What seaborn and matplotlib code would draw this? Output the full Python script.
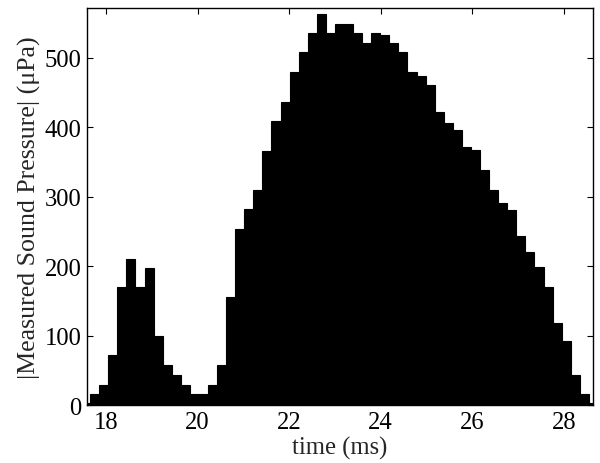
import numpy as np
import pandas as pd
import matplotlib
matplotlib.use("Agg")
import matplotlib.pyplot as plt
import seaborn as sns

# Bin centres (ms) of the pressure histogram: regular grid
bin_first = 17.552
bin_width = 0.1981
pressure_upa = [
    4, 17, 30, 72, 170, 211, 170, 198, 100, 58,
    44, 30, 17, 17, 30, 58, 156, 254, 282, 310,
    366, 409, 436, 479, 508, 535, 563, 535, 549, 549,
    535, 521, 535, 532, 521, 508, 479, 473, 460, 422,
    406, 396, 372, 367, 339, 310, 291, 281, 243, 221,
    199, 171, 119, 92, 44, 16, 3,
]
time_ms = np.round(bin_first + bin_width * np.arange(len(pressure_upa)), 4)
bin_edges = np.append(time_ms - bin_width / 2, time_ms[-1] + bin_width / 2).tolist()

x_ticks = [18, 20, 22, 24, 26, 28]
y_ticks = [0, 100, 200, 300, 400, 500]

df = pd.DataFrame({"time": time_ms, "pressure": pressure_upa})

sns.set_style("ticks")
plt.rcParams["font.family"] = ["Liberation Serif", "DejaVu Serif"]
plt.rcParams["font.size"] = 17.7

fig = plt.figure(figsize=(6, 4.64), dpi=100)
ax = fig.add_axes([0.1455, 0.124, 0.8423, 0.856])

sns.histplot(
    data=df,
    x="time",
    weights="pressure",
    bins=bin_edges,
    color="black",
    edgecolor="black",
    linewidth=0.8,
    alpha=1,
    ax=ax,
)

ax.set_xlim(17.59, 28.63)
ax.set_ylim(0, 571)
ax.set_xticks(x_ticks)
ax.set_yticks(y_ticks)
ax.tick_params(direction="in", length=4, width=0.8, top=True, right=True,
               labelsize=17.7, pad=4, colors="black")
for side in ["top", "right", "bottom", "left"]:
    ax.spines[side].set_visible(True)
    ax.spines[side].set_linewidth(1.0)
    ax.spines[side].set_color("black")

ax.set_xlabel("time (ms)", fontsize=17.7, labelpad=2)
ax.set_ylabel("|Measured Sound Pressure| (μPa)", fontsize=18.6, labelpad=3)

fig.savefig("out.png", dpi=100)
plt.close(fig)
